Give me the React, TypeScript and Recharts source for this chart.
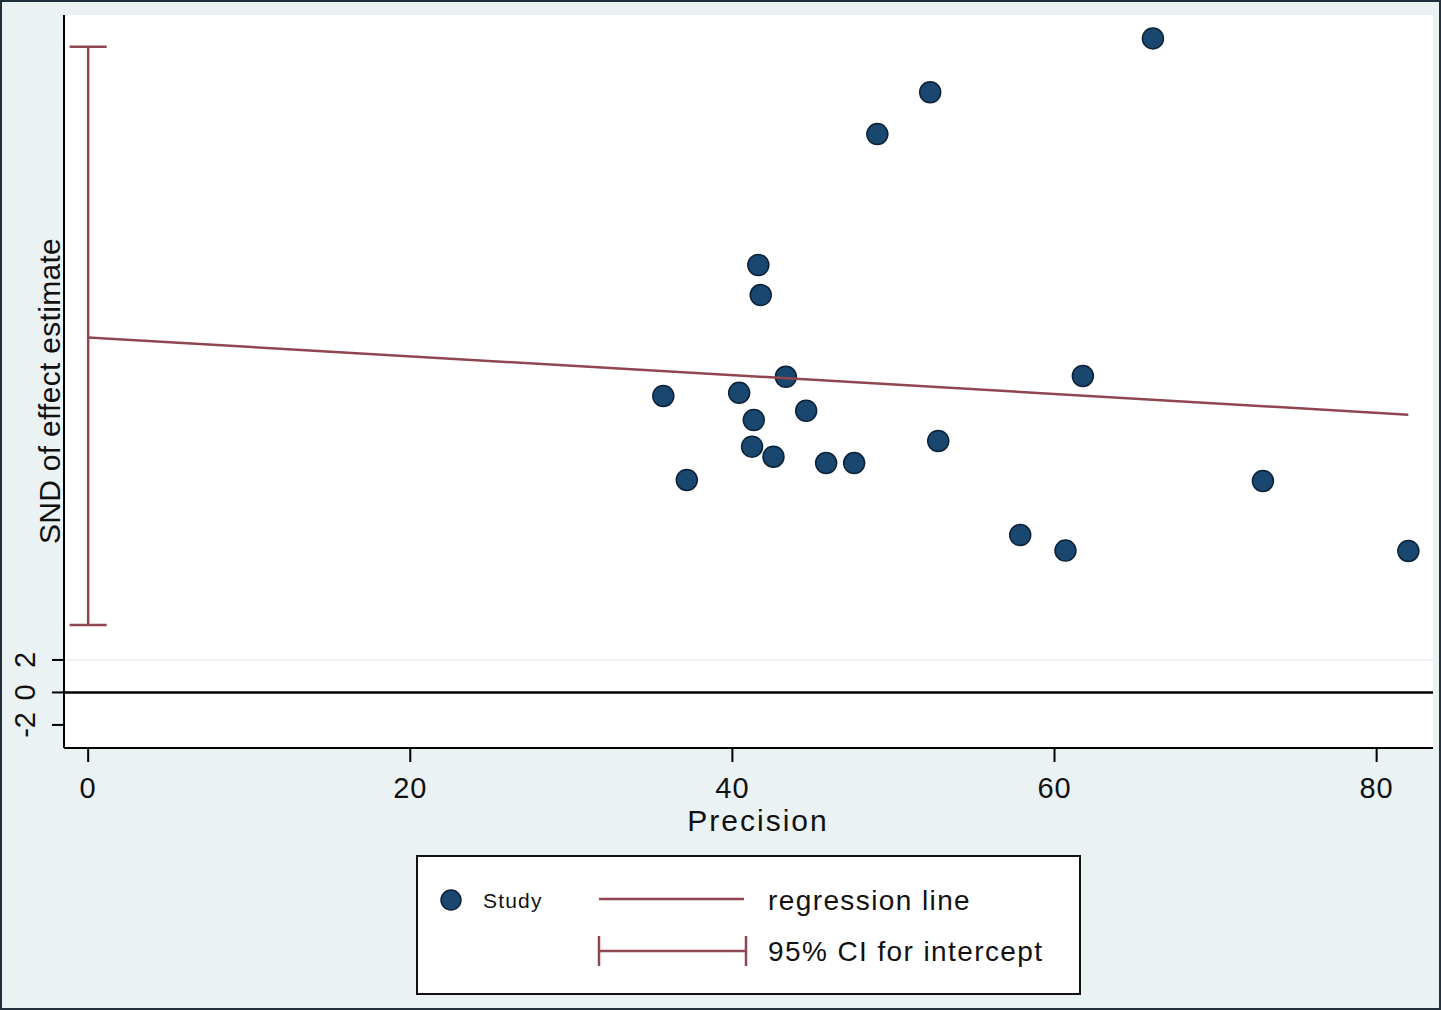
import React from 'react';
import {
  ComposedChart,
  Scatter,
  XAxis,
  YAxis,
  ReferenceLine,
  ErrorBar,
  CartesianGrid,
} from 'recharts';

// study points: precision (x) vs standard normal deviate (y)
const precision = [
  66.11, 52.28, 49.0, 41.61, 41.76, 43.32, 61.76, 35.71, 40.42, 44.58, 41.33,
  52.78, 41.22, 42.55, 45.82, 47.56, 37.17, 72.94, 57.87, 60.68, 81.97,
];
const snd = [
  40.26, 36.94, 34.37, 26.31, 24.46, 19.43, 19.48, 18.25, 18.44, 17.34, 16.77,
  15.48, 15.13, 14.51, 14.12, 14.12, 13.08, 13.02, 9.69, 8.73, 8.71,
];

// fitted regression line end points
const regX = [0, 81.97];
const regY = [21.85, 17.1];

// 95% CI for the intercept
const ciLow = 4.15;
const ciHigh = 39.74;

const xTicks = [0, 20, 40, 60, 80];
const yTicks = [-2, 0, 2];

const legendLabels = ['Study', 'regression line', '95% CI for intercept'];

const NAVY = '#1a476f';
const MAROON = '#8f4650';
const BG = '#eaf2f3';
const FONT = '"Liberation Sans", Arial, Helvetica, sans-serif';

const studies = precision.map((x, i) => ({ x, y: snd[i] }));
const regression = regX.map((x, i) => ({ x, y: regY[i] }));
const ci = [{ x: 0, y: (ciLow + ciHigh) / 2, err: (ciHigh - ciLow) / 2 }];

const Dot = (props: any) => (
  <circle
    cx={props.cx}
    cy={props.cy}
    r={10.5}
    fill={NAVY}
    stroke="#0b2238"
    strokeWidth={1.5}
  />
);
const Nothing = () => <g />;

const XTick = (props: any) => (
  <text
    x={props.x}
    y={798}
    textAnchor="middle"
    fontSize={29}
    letterSpacing={1}
    fontFamily={FONT}
    fill="#111"
  >
    {props.payload.value}
  </text>
);

const YTick = (props: any) => {
  const x = 35;
  return (
    <text
      x={x}
      y={props.y}
      transform={`rotate(-90 ${x} ${props.y})`}
      textAnchor="middle"
      fontSize={29}
      fontFamily={FONT}
      fill="#111"
    >
      {props.payload.value}
    </text>
  );
};

function LegendBox() {
  return (
    <svg
      width={665}
      height={140}
      style={{ position: 'absolute', left: 416, top: 855 }}
    >
      <rect x={1} y={1} width={663} height={138} fill="#fff" stroke="#111" strokeWidth={2} />
      <circle cx={35} cy={45} r={10} fill={NAVY} stroke="#0b2238" strokeWidth={1.5} />
      <text x={67} y={45} dominantBaseline="central" fontSize={21} letterSpacing={1.2} fontFamily={FONT} fill="#111">
        {legendLabels[0]}
      </text>
      <line x1={183} y1={44} x2={328} y2={44} stroke={MAROON} strokeWidth={2.5} />
      <text x={352} y={45} dominantBaseline="central" fontSize={28} letterSpacing={1.4} fontFamily={FONT} fill="#111">
        {legendLabels[1]}
      </text>
      <line x1={183} y1={96} x2={330} y2={96} stroke={MAROON} strokeWidth={2.5} />
      <line x1={183} y1={81} x2={183} y2={111} stroke={MAROON} strokeWidth={2.5} />
      <line x1={330} y1={81} x2={330} y2={111} stroke={MAROON} strokeWidth={2.5} />
      <text x={352} y={96} dominantBaseline="central" fontSize={28} letterSpacing={1.4} fontFamily={FONT} fill="#111">
        {legendLabels[2]}
      </text>
    </svg>
  );
}

export default function App() {
  return (
    <div
      style={{
        position: 'absolute',
        left: 0,
        top: 0,
        width: 1441,
        height: 1010,
        background: BG,
        overflow: 'hidden',
      }}
    >
      <ComposedChart
        width={1441}
        height={1010}
        margin={{ top: 15, right: 8, bottom: 162, left: 0 }}
      >
        <CartesianGrid fill="#ffffff" fillOpacity={1} horizontal={false} vertical={false} />
        <XAxis
          type="number"
          dataKey="x"
          domain={[-1.5, 83.5]}
          ticks={xTicks}
          allowDataOverflow
          height={100}
          tickSize={14}
          axisLine={{ stroke: '#000', strokeWidth: 2 }}
          tickLine={{ stroke: '#000', strokeWidth: 2 }}
          tick={<XTick />}
          label={() => (
            <text
              x={758}
              y={831}
              textAnchor="middle"
              fontSize={30}
              letterSpacing={2}
              fontFamily={FONT}
              fill="#111"
            >
              Precision
            </text>
          )}
        />
        <YAxis
          type="number"
          dataKey="y"
          domain={[-3.42, 41.7]}
          ticks={yTicks}
          allowDataOverflow
          width={64}
          tickSize={12}
          axisLine={{ stroke: '#000', strokeWidth: 2 }}
          tickLine={{ stroke: '#000', strokeWidth: 2 }}
          tick={<YTick />}
          label={() => (
            <text
              x={60}
              y={391}
              transform="rotate(-90 60 391)"
              textAnchor="middle"
              fontSize={30}
              letterSpacing={0.3}
              fontFamily={FONT}
              fill="#111"
            >
              SND of effect estimate
            </text>
          )}
        />
        <ReferenceLine y={2} stroke="#e6eef0" strokeWidth={1.5} />
        <ReferenceLine y={0} stroke="#000" strokeWidth={2.5} />
        <Scatter data={ci} shape={<Nothing />} isAnimationActive={false}>
          <ErrorBar
            dataKey="err"
            direction="y"
            width={18.5}
            stroke={MAROON}
            strokeWidth={2.5}
            isAnimationActive={false}
          />
        </Scatter>
        <Scatter data={studies} shape={<Dot />} isAnimationActive={false} />
        <Scatter
          data={regression}
          line={{ stroke: MAROON, strokeWidth: 2.5 }}
          shape={<Nothing />}
          isAnimationActive={false}
        />
      </ComposedChart>
      <LegendBox />
      <div
        style={{
          position: 'absolute',
          left: 0,
          top: 0,
          width: 1441,
          height: 1010,
          boxSizing: 'border-box',
          border: '2px solid #22303c',
          pointerEvents: 'none',
        }}
      />
    </div>
  );
}
